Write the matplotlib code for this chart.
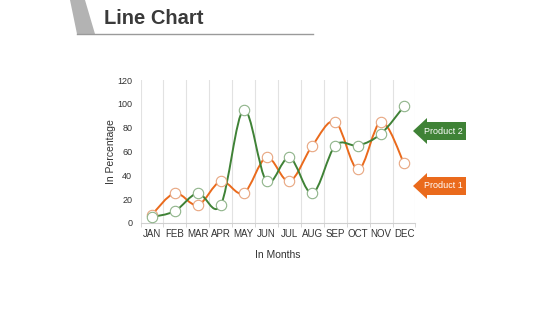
import matplotlib.pyplot as plt
from matplotlib.path import Path
from matplotlib.patches import PathPatch, Polygon
import numpy as np

plt.rcParams['font.family'] = ['Liberation Sans', 'DejaVu Sans']

months = ['JAN', 'FEB', 'MAR', 'APR', 'MAY', 'JUN', 'JUL', 'AUG', 'SEP', 'OCT', 'NOV', 'DEC']
product1 = [7, 25, 15, 35, 25, 55, 35, 65, 85, 45, 85, 50]
product2 = [5, 10, 25, 15, 95, 35, 55, 25, 65, 65, 75, 98]

green = '#3f8236'
orange = '#ea6a1c'

W, H = 560, 315


def smooth_path(xs, ys):
    # catmull-rom segments as cubic bezier
    pts = np.column_stack([xs, ys]).astype(float)
    n = len(pts)
    verts = [pts[0]]
    codes = [Path.MOVETO]
    for i in range(n - 1):
        p0 = pts[max(i - 1, 0)]
        p1 = pts[i]
        p2 = pts[i + 1]
        p3 = pts[min(i + 2, n - 1)]
        verts += [p1 + (p2 - p0) / 6, p2 - (p3 - p1) / 6, p2]
        codes += [Path.CURVE4] * 3
    return Path(verts, codes)


def px(x, y):
    return (x / W, 1 - y / H)


fig = plt.figure(figsize=(5.6, 3.15), dpi=100)
ax = fig.add_axes([140.5 / W, 1 - 223 / H, 275 / W, 143 / H])

x = np.arange(len(months))
for vals, col, edge in [(product1, orange, '#e8a680'), (product2, green, '#8fb48a')]:
    ax.add_patch(PathPatch(smooth_path(x, vals), facecolor='none', edgecolor=col, lw=1.4, zorder=2))
    ax.plot(x, vals, ls='none', marker='o', ms=7.5, mfc='white', mec=edge, mew=0.8, zorder=3)

ax.set_xlim(-0.5, 11.5)
ax.set_ylim(0, 120)
ax.set_xticks(x)
ax.set_xticklabels(months, fontsize=7, color='#333333')
ax.set_xticks(np.arange(-0.5, 12, 1), minor=True)
ax.set_yticks(range(0, 121, 20))
ax.tick_params(axis='y', labelsize=6.5, colors='#333333', length=0, pad=6)
ax.tick_params(axis='x', which='major', length=0, pad=4)
ax.tick_params(axis='x', which='minor', length=3, color='#d0d0d0')
ax.grid(axis='x', which='minor', color='#e2e2e2', lw=0.8)
for s in ['top', 'right', 'left']:
    ax.spines[s].set_visible(False)
ax.spines['bottom'].set_color('#d0d0d0')
ax.set_ylabel('In Percentage', fontsize=7.5, color='#333333', labelpad=1)
ax.set_xlabel('In Months', fontsize=7.5, color='#333333', labelpad=8)

# title decoration
fig.patches.append(Polygon([px(70, 0), px(85, 0), px(95, 34), px(77, 34)], closed=True,
                           transform=fig.transFigure, facecolor='#b3b3b3', edgecolor='none'))
fig.lines.append(plt.Line2D([77 / W, 313 / W], [1 - 33.5 / H] * 2, transform=fig.transFigure,
                            color='#9a9a9a', lw=1))
fig.text(104 / W, 1 - 18 / H, 'Line Chart', fontsize=14.5, fontweight='bold', color='#3a3a3a',
         va='center', ha='left')

# arrow labels
for cy, col, label in [(131, green, 'Product 2'), (186, orange, 'Product 1')]:
    shape = [px(413, cy), px(427, cy - 13), px(427, cy - 9), px(466, cy - 9),
             px(466, cy + 9), px(427, cy + 9), px(427, cy + 13)]
    fig.patches.append(Polygon(shape, closed=True, transform=fig.transFigure,
                               facecolor=col, edgecolor='none'))
    fig.text(443 / W, 1 - cy / H, label, fontsize=6.5, color='white', ha='center', va='center')

plt.savefig('out.png', dpi=100)
